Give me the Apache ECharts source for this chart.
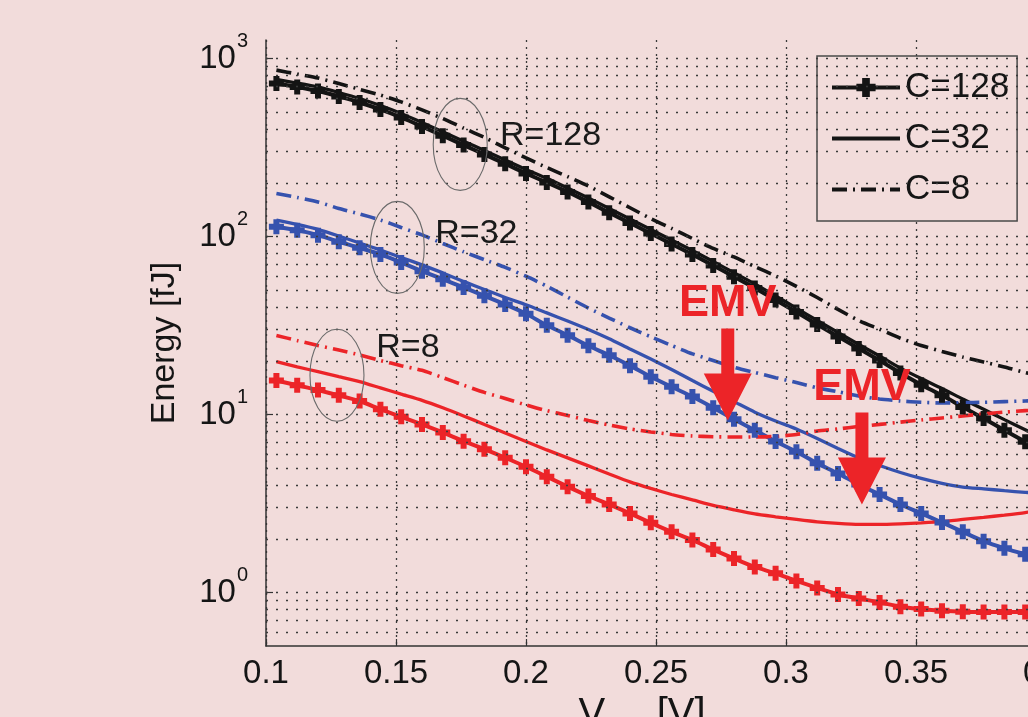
<!DOCTYPE html>
<html><head><meta charset="utf-8">
<script src="https://cdn.jsdelivr.net/npm/echarts@6/dist/echarts.min.js"></script>
<style>html,body{margin:0;padding:0;background:#f2dcdb;}#c{width:1028px;height:717px;}</style>
</head><body><div id="c"></div>
<script>
// ---- data ----
const vdd = [0.104,0.112,0.120,0.128,0.136,0.144,0.152,0.160,0.168,0.176,0.184,0.192,0.200,0.208,0.216,0.224,0.232,0.240,0.248,0.256,0.264,0.272,0.280,0.288,0.296,0.304,0.312,0.320,0.328,0.336,0.344,0.352,0.360,0.368,0.376,0.384,0.392,0.400];

const r128c128 = [724,692,657,612,566,517,466,415,368,326,289,256,226,201,178,156,136,119,104,90.8,79.2,68.7,59.4,51.4,44.0,37.6,32.0,27.4,23.5,20.1,17.1,14.7,12.8,11.0,9.49,8.16,7.03,6.04];
const r128c32  = [762,728,692,644,596,544,491,437,387,343,304,269,238,212,187,164.5,143.6,125.4,109.5,95.6,83.4,72.3,62.5,54.1,46.3,39.6,33.7,28.9,24.7,21.3,18.2,15.9,14.0,12.2,10.7,9.35,8.21,7.19];
const r128c8   = [860,818,777,723,671,623,570,514,460,406,360,315,276,244,217,192,167,145,126,111,97.4,85.6,76.7,67.8,60.0,52.4,45.4,38.9,33.7,30.1,26.8,24.4,22.6,21.0,19.7,18.5,17.2,16.1];

const r32c128 = [113.4,108.5,101.7,93.4,86.4,79.2,71.4,63.8,57.5,51.7,46.4,41.5,36.8,31.7,27.9,24.3,21.5,18.8,16.3,14.3,12.6,10.9,9.41,8.16,7.05,6.17,5.31,4.66,4.04,3.55,3.12,2.78,2.47,2.19,1.94,1.77,1.64,1.53];
const r32c32  = [123.5,116.8,109.5,100.6,91.9,84.0,76.2,69.2,62.4,55.9,50.4,45.4,41.3,37.2,33.5,30.0,26.6,23.3,20.5,17.9,15.5,13.5,11.8,10.3,9.19,8.29,7.33,6.44,5.70,5.17,4.72,4.37,4.10,3.91,3.82,3.73,3.65,3.60];
const r32c8   = [174.4,165.6,156.3,143.7,133.8,123.8,112.3,102.0,91.3,82.0,74.0,67.0,59.8,52.6,45.6,39.6,34.8,30.7,27.3,24.4,21.9,20.1,18.4,17.2,16.1,15.1,14.1,13.4,12.7,12.2,11.9,11.7,11.6,11.65,11.7,11.8,11.9,12.0];

const r8c128 = [15.5,14.6,13.7,12.8,11.9,10.7,9.7,8.79,7.92,7.08,6.38,5.71,5.08,4.47,3.93,3.48,3.12,2.78,2.46,2.19,1.97,1.74,1.55,1.39,1.28,1.16,1.06,0.974,0.925,0.879,0.831,0.806,0.789,0.779,0.777,0.777,0.777,0.78];
const r8c32  = [19.8,18.5,17.4,16.3,15.3,14.1,13.0,12.0,10.9,9.81,8.79,7.87,7.05,6.32,5.70,5.14,4.63,4.18,3.84,3.55,3.31,3.08,2.91,2.76,2.66,2.57,2.49,2.44,2.41,2.41,2.43,2.46,2.50,2.57,2.64,2.72,2.81,2.93];
const r8c8   = [27.8,26.0,24.4,23.0,21.6,20.1,18.8,17.7,16.1,14.6,13.3,12.3,11.3,10.5,9.87,9.25,8.73,8.29,7.97,7.72,7.57,7.49,7.47,7.47,7.52,7.72,8.08,8.29,8.56,8.79,9.05,9.31,9.56,9.81,10.07,10.3,10.5,10.7];

const legendNames = ['C=128', 'C=32', 'C=8'];
const gridValues = [0.6,0.7,0.8,0.9,1,2,3,4,5,6,7,8,9,10,20,30,40,50,60,70,80,90,100,200,300,400,500,600,700,800,900,1000];

// annotations (data coordinates)
const rLabels = [{text:'R=128', x:0.190, y:369}, {text:'R=32', x:0.1651, y:104}, {text:'R=8', x:0.1424, y:23.8}];
const rEllipses = [{x:0.1747, y:329}, {x:0.1505, y:86.8}, {x:0.1273, y:16.6}];
const emvTips = [{x:0.2776, y:9.26}, {x:0.3292, y:3.12}];

// ---- styles ----
const FONT = "'Liberation Sans', Arial, Helvetica, sans-serif";
const BLACK = '#141414', BLUE = '#3652ae', RED = '#ec2428';
const PLUS = 'path://M-2.4,-6H2.4V-2.4H6V2.4H2.4V6H-2.4V2.4H-6V-2.4H-2.4Z';

function mk(name, color, values, kind) {
  const s = {
    name: name, type: 'line', z: 3, smooth: 0.2,
    data: vdd.map((x, i) => [x, values[i]]),
    itemStyle: {color: color},
    lineStyle: {color: color, width: 3},
    symbol: 'none', showSymbol: false, silent: true
  };
  if (kind === 128) { s.symbol = PLUS; s.symbolSize = 15; s.showSymbol = true; s.lineStyle.width = 4; }
  if (kind === 32) { s.lineStyle.width = 3.3; }
  if (kind === 8) { s.lineStyle.type = [15, 6, 2, 6]; s.lineStyle.width = 3.6; }
  return s;
}

const series = [
  mk('C=128', BLACK, r128c128, 128), mk('C=32', BLACK, r128c32, 32), mk('C=8', BLACK, r128c8, 8),
  mk('C=128', BLUE, r32c128, 128), mk('C=32', BLUE, r32c32, 32), mk('C=8', BLUE, r32c8, 8),
  mk('C=128', RED, r8c128, 128), mk('C=32', RED, r8c32, 32), mk('C=8', RED, r8c8, 8),
  {
    name: '_grid', type: 'line', data: [], z: 1, silent: true,
    markLine: {
      silent: true, symbol: ['none', 'none'], label: {show: false}, animation: false,
      lineStyle: {color: '#3a3a3a', type: [2, 8], width: 1.3},
      emphasis: {disabled: true},
      data: gridValues.map(v => ({yAxis: v}))
    }
  }
];

const hiddenSym = {color: 'rgba(0,0,0,0)', borderWidth: 0, opacity: 0};

const chart = echarts.init(document.getElementById('c'));
chart.setOption({
  backgroundColor: '#f2dcdb',
  animation: false,
  grid: {left: 266, top: 40, width: 780, height: 606, containLabel: false, outerBoundsMode: 'none'},
  legend: {
    data: [
      {name: 'C=128'},
      {name: 'C=32', itemStyle: hiddenSym},
      {name: 'C=8', itemStyle: hiddenSym}
    ],
    orient: 'vertical', left: 817, top: 56,
    padding: [14, 8, 14, 13], itemGap: 16, itemWidth: 68, itemHeight: 24,
    backgroundColor: '#f2dcdb', borderColor: '#4a4a4a', borderWidth: 1.5,
    selectedMode: false,
    lineStyle: {width: 4},
    textStyle: {fontFamily: FONT, fontSize: 35, color: '#151515'}
  },
  xAxis: {
    type: 'value', min: 0.1, max: 0.4, interval: 0.05,
    name: '{v|V}{s|DD}{t| [V]}', nameLocation: 'middle', nameGap: 33,
    nameTextStyle: {padding: [0, 28, 0, 0], rich: {
      v: {fontFamily: FONT, fontSize: 40, color: '#151515'},
      s: {fontFamily: FONT, fontSize: 28, color: '#151515', padding: [30, 0, 0, 0]},
      t: {fontFamily: FONT, fontSize: 40, color: '#151515'}
    }},
    axisLine: {show: true, onZero: false, lineStyle: {color: '#333', width: 1.5}},
    axisTick: {show: true, inside: true, length: 7, lineStyle: {color: '#333', width: 1.2}},
    axisLabel: {fontFamily: FONT, fontSize: 33, color: '#151515', margin: 11,
      formatter: v => String(+v.toFixed(2))},
    splitLine: {show: true, lineStyle: {color: '#3a3a3a', type: [2, 5], width: 1.3}}
  },
  yAxis: {
    type: 'log', logBase: 10, min: 0.5, max: 1270,
    name: 'Energy [fJ]', nameLocation: 'middle', nameGap: 84, nameRotate: 90,
    nameTextStyle: {fontFamily: FONT, fontSize: 34, color: '#151515'},
    axisLine: {show: true, lineStyle: {color: '#333', width: 1.5}},
    axisTick: {show: true, inside: true, length: 7, lineStyle: {color: '#333', width: 1.2}},
    axisLabel: {
      margin: 18, showMinLabel: false, showMaxLabel: false,
      formatter: function (v) {
        const e = Math.log10(v);
        if (Math.abs(e - Math.round(e)) > 1e-6) return '';
        return '{b|10}{s|' + Math.round(e) + '}';
      },
      rich: {
        b: {fontFamily: FONT, fontSize: 33, color: '#151515', lineHeight: 33},
        s: {fontFamily: FONT, fontSize: 20, color: '#151515', lineHeight: 20, padding: [0, 0, 34, 1]}
      }
    },
    splitLine: {show: false},
    minorTick: {show: false}
  },
  series: series
});

// ---- annotations placed through the chart's own coordinate conversion ----
function px(x, y) { return chart.convertToPixel({gridIndex: 0}, [x, y]); }
const graphics = [];
rEllipses.forEach(e => {
  const p = px(e.x, e.y);
  graphics.push({type: 'ellipse', silent: true, z: 50,
    shape: {cx: p[0], cy: p[1], rx: 27, ry: 46},
    style: {fill: 'none', stroke: '#6a6a6a', lineWidth: 1.1}});
});
rLabels.forEach(l => {
  const p = px(l.x, l.y);
  graphics.push({type: 'text', silent: true, z: 50, x: p[0], y: p[1],
    style: {text: l.text, font: '34px ' + FONT, fill: '#1a1a1a', textAlign: 'left', textVerticalAlign: 'middle'}});
});
emvTips.forEach(t => {
  const p = px(t.x, t.y);
  const x = p[0], y = p[1];
  graphics.push({type: 'polygon', silent: true, z: 60,
    shape: {points: [[x - 6.5, y - 92], [x + 6.5, y - 92], [x + 6.5, y - 47], [x + 24, y - 47], [x, y], [x - 24, y - 47], [x - 6.5, y - 47]]},
    style: {fill: RED}});
  graphics.push({type: 'text', silent: true, z: 60, x: x, y: y - 117,
    style: {text: 'EMV', font: 'bold 45px ' + FONT, fill: RED, textAlign: 'center', textVerticalAlign: 'middle'}});
});
chart.setOption({graphic: graphics});
</script>
</body></html>
